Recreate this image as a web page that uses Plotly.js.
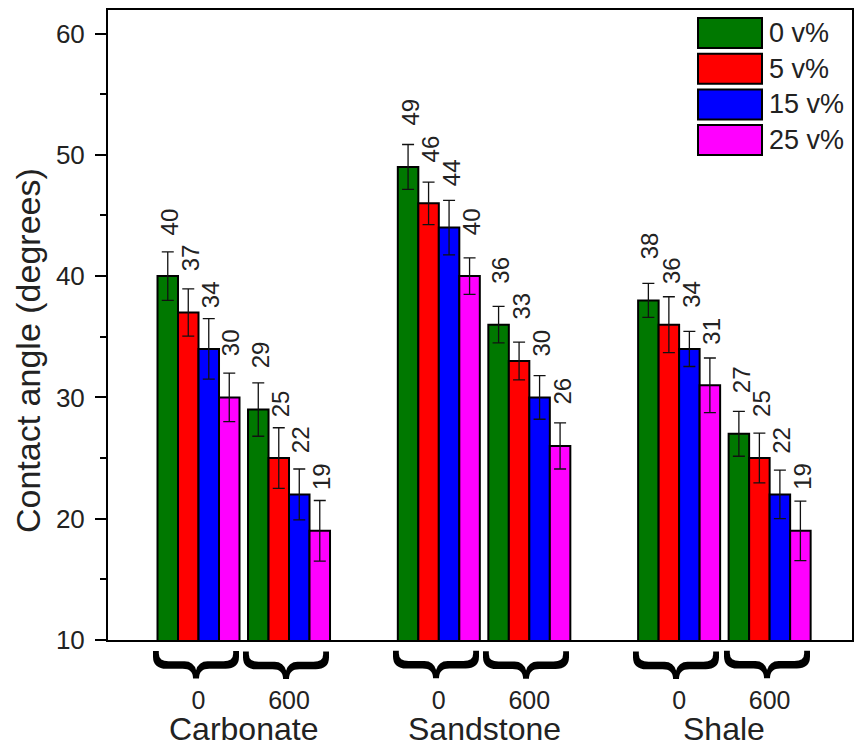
<!DOCTYPE html>
<html>
<head>
<meta charset="utf-8">
<script src="https://cdn.plot.ly/plotly-3.0.1.min.js"></script>
<style>html,body{margin:0;padding:0;background:#fff}#chart{width:854px;height:748px}</style>
</head>
<body>
<div id="chart"></div>
<script>
// ---- data ----
const materials = ['Carbonate', 'Sandstone', 'Shale'];
const temperatures = ['0', '600'];
const seriesNames = ['0 v%', '5 v%', '15 v%', '25 v%'];
// order of groups: Carbonate-0, Carbonate-600, Sandstone-0, Sandstone-600, Shale-0, Shale-600
const vals0 = [40, 29, 49, 36, 38, 27];
const vals5 = [37, 25, 46, 33, 36, 25];
const vals15 = [34, 22, 44, 30, 34, 22];
const vals25 = [30, 19, 40, 26, 31, 19];
const err0 = [2.0, 2.2, 1.85, 1.5, 1.4, 1.85];
const err5 = [1.95, 2.5, 1.75, 1.55, 2.3, 2.05];
const err15 = [2.5, 2.1, 2.25, 1.8, 1.45, 2.0];
const err25 = [2.0, 2.5, 1.5, 1.9, 2.25, 2.45];
const yTicks = [10, 20, 30, 40, 50, 60];
const yTitle = 'Contact angle (degrees)';

// ---- layout helpers ----
const values = [vals0, vals5, vals15, vals25];
const errors = [err0, err5, err15, err25];
const colors = ['#007800', '#FF0000', '#0000FF', '#FF00FF'];
const MAT_SPACING = 2.655;
const BARGAP = 0.094;
const xPos = [], xTickText = [];
materials.forEach((m, mi) => temperatures.forEach((t, ti) => {
  xPos.push(mi * MAT_SPACING + ti);
  xTickText.push(t);
}));
const barW = (1 - BARGAP) / seriesNames.length;

const traces = seriesNames.map((name, si) => ({
  type: 'bar',
  name: name,
  x: xPos,
  y: values[si],
  marker: {color: colors[si], line: {color: '#000', width: 2}},
  error_y: {type: 'data', array: errors[si], visible: true, color: '#111', thickness: 1.3, width: 6},
  hoverinfo: 'x+y'
}));

const font = 'Arial, "Liberation Sans", sans-serif';
const annotations = [];
// value labels
seriesNames.forEach((name, si) => {
  values[si].forEach((v, gi) => {
    annotations.push({
      x: xPos[gi] + (si - 1.5) * barW, y: v, xref: 'x', yref: 'y',
      text: String(v), showarrow: false, textangle: -90,
      xanchor: 'center', yanchor: 'bottom', yshift: 39, xshift: 2,
      font: {family: font, size: 24, color: '#222'}
    });
  });
});
// braces under each group
xPos.forEach(x => {
  annotations.push({
    x: x, y: 0, xref: 'x', yref: 'paper', text: '}', showarrow: false,
    textangle: 90, xanchor: 'center', yanchor: 'middle', yshift: -25, xshift: 5,
    font: {family: font, size: 92, color: '#000'}
  });
});
// material labels
materials.forEach((m, mi) => {
  annotations.push({
    x: mi * MAT_SPACING + 0.5, y: 0, xref: 'x', yref: 'paper', text: m,
    showarrow: false, xanchor: 'center', yanchor: 'middle', yshift: -89,
    font: {family: font, size: 32, color: '#222'}
  });
});
// layout constants (pixels)
const PL = 108, PW = 744, PB = 640, PH = 630;
const px2x = p => (p - PL) / PW, py2y = p => (PB - p) / PH;
// y-axis title (drawn as annotation to match its off-centre placement)
annotations.push({
  x: px2x(28), y: py2y(351), xref: 'paper', yref: 'paper', text: yTitle,
  showarrow: false, textangle: -90, xanchor: 'center', yanchor: 'middle',
  font: {family: font, size: 34, color: '#222'}
});
// custom legend
const shapes = [];
seriesNames.forEach((name, si) => {
  const top = 18 + si * 35.7, bot = top + 30;
  shapes.push({type: 'rect', xref: 'paper', yref: 'paper',
    x0: px2x(698), x1: px2x(762), y0: py2y(bot), y1: py2y(top),
    fillcolor: colors[si], line: {color: '#000', width: 2}});
  annotations.push({x: px2x(767), y: py2y((top + bot) / 2), xref: 'paper', yref: 'paper',
    text: name, showarrow: false, xanchor: 'left', yanchor: 'middle',
    font: {family: font, size: 27, color: '#222'}});
});

const layout = {
  width: 854, height: 748,
  margin: {l: 108, r: 2, t: 10, b: 108},
  paper_bgcolor: '#fff', plot_bgcolor: '#fff',
  barmode: 'group', bargap: BARGAP, bargroupgap: 0,
  showlegend: false,
  font: {family: font, color: '#222'},
  xaxis: {
    range: [-1.0, 7.22], tickvals: xPos, ticktext: xTickText,
    ticks: '', showgrid: false, zeroline: false,
    showline: true, linecolor: '#000', linewidth: 2, mirror: true,
    tickfont: {family: font, size: 25, color: '#222'}, ticklabelstandoff: 37
  },
  yaxis: {
    range: [10, 61.94], tickvals: yTicks, ticks: 'outside', ticklen: 11, tickwidth: 2, tickcolor: '#000',
    minor: {dtick: 5, ticks: 'outside', ticklen: 6, tickwidth: 2, tickcolor: '#000'},
    showgrid: false, zeroline: false,
    showline: true, linecolor: '#000', linewidth: 2, mirror: true,
    tickfont: {family: font, size: 26, color: '#222'}, ticklabelstandoff: 5
  },
  annotations: annotations,
  shapes: shapes
};

Plotly.newPlot('chart', traces, layout, {displayModeBar: false, staticPlot: true});
</script>
</body>
</html>
